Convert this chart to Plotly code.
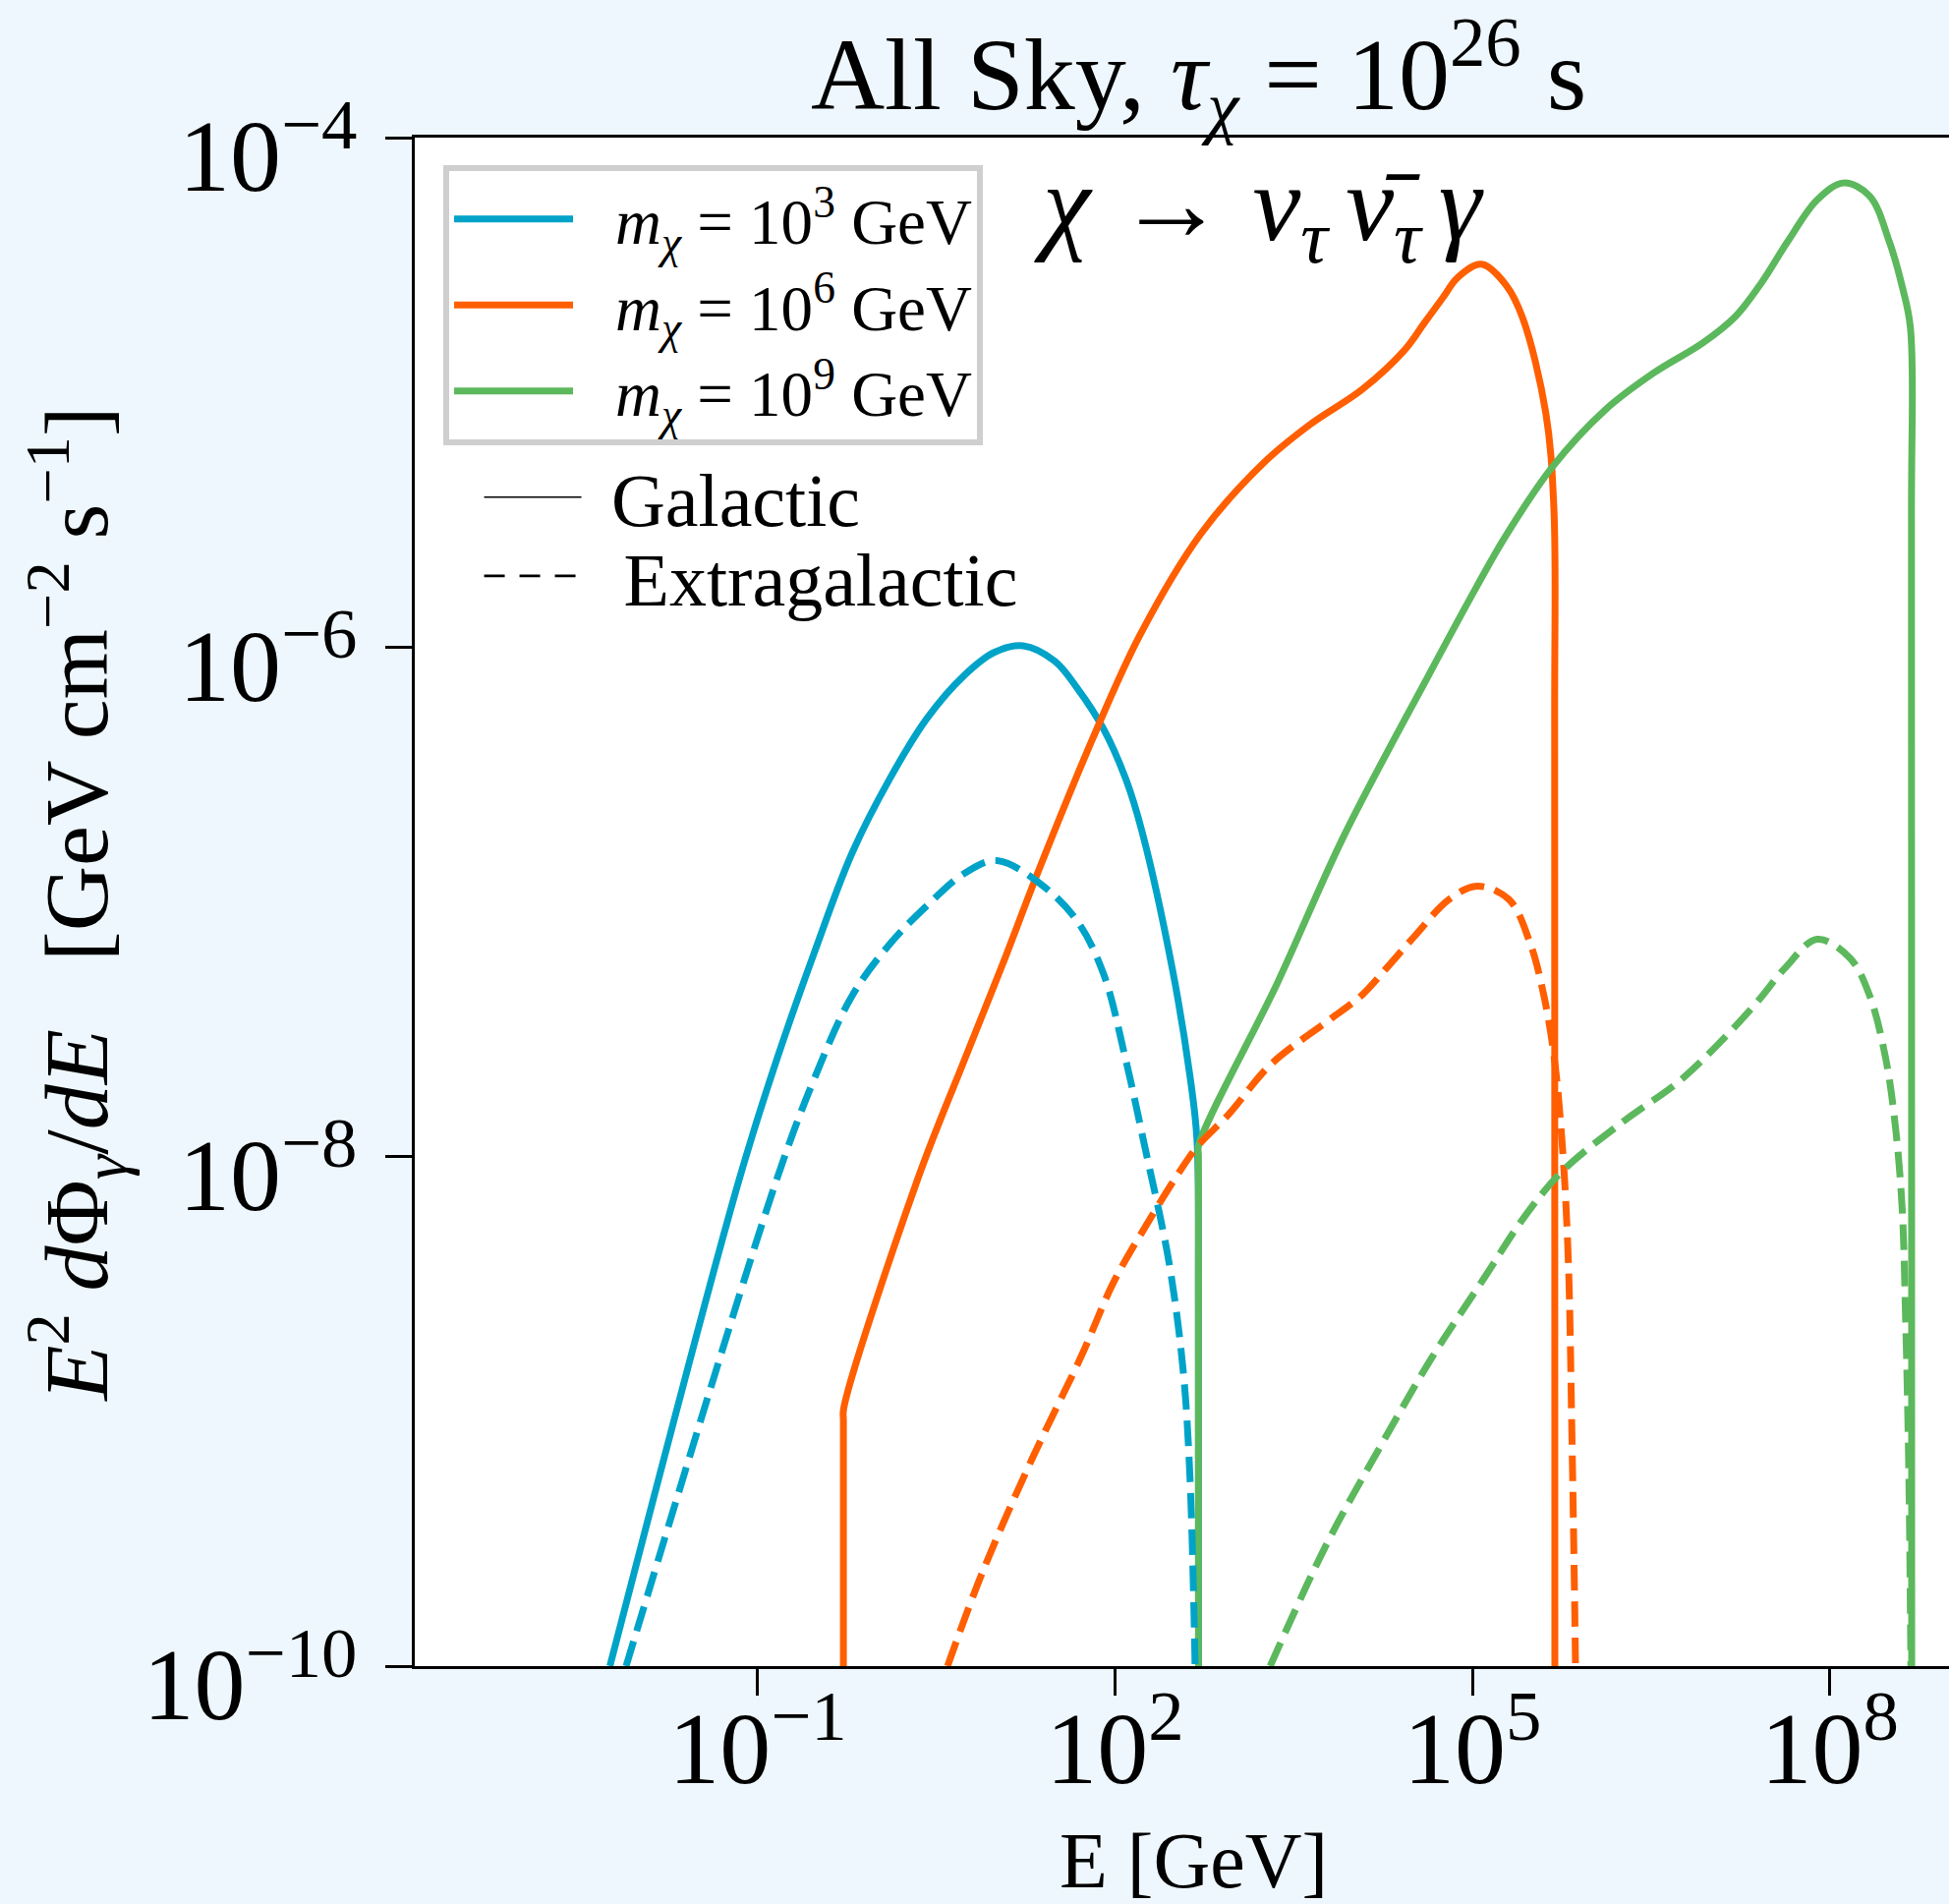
import plotly.graph_objects as go

# ---- data: log10(E / GeV) and log10(E^2 dPhi/dE / (GeV cm^-2 s^-1)) ----
gal_1e3_logE = [-2.24, -1.155, -0.84, -0.525, -0.209, 0.105, 0.421, 0.736, 0.989, 1.229, 1.493, 1.681,
                1.902, 2.092, 2.23, 2.481, 2.628, 2.6875, 2.70, 2.702]
gal_1e3_logF = [-10.0, -8.09, -7.62, -7.20, -6.81, -6.52, -6.28, -6.11, -6.02, -5.995, -6.055, -6.16,
                -6.32, -6.52, -6.73, -7.263, -7.681, -7.932, -8.6, -10.6]

exg_1e3_logE = [-2.104, -0.84, -0.525, -0.209, 0.105, 0.421, 0.736, 1.004, 1.367, 1.681, 1.902, 2.09,
                2.246, 2.452, 2.57, 2.628, 2.672]
exg_1e3_logF = [-10.0, -8.09, -7.695, -7.37, -7.168, -7.015, -6.888, -6.838, -6.927, -7.074, -7.281, -7.62,
                -7.953, -8.413, -8.831, -9.25, -10.0]

gal_1e6_logE = [-0.28, -0.28, -0.278, 0.342, 0.736, 1.051, 1.367, 1.807, 2.21, 2.719, 3.238, 3.638, 4.076,
                4.434, 4.6, 4.755, 4.874, 5.075, 5.285, 5.423, 5.615, 5.683, 5.69, 5.692]
gal_1e6_logF = [-10.6, -9.04, -8.99, -8.09, -7.62, -7.251, -6.867, -6.365, -5.952, -5.556, -5.281, -5.126,
                -4.988, -4.832, -4.725, -4.626, -4.55, -4.497, -4.581, -4.71, -5.079, -5.449, -6.3, -10.6]

exg_1e6_logE = [0.594, 0.885, 1.3, 1.717, 1.99, 2.266, 2.54, 2.70, 2.952, 3.305, 3.775, 4.07, 4.275, 4.51,
                4.805, 5.04, 5.305, 5.481, 5.599, 5.688, 5.76, 5.805, 5.833, 5.865, 5.87]
exg_1e6_logF = [-10.0, -9.634, -9.19, -8.783, -8.491, -8.266, -8.06, -7.955, -7.835, -7.639, -7.471, -7.367,
                -7.262, -7.137, -6.99, -6.938, -6.99, -7.158, -7.367, -7.618, -7.995, -8.413, -9.041, -10.0,
                -10.3]

gal_1e9_logE = [2.70, 2.70, 2.702, 3.363, 3.923, 4.635, 5.035, 5.285, 5.67, 6.109, 6.521, 6.933, 7.207, 7.427,
                7.647, 7.894, 8.114, 8.333, 8.498, 8.607, 8.676, 8.685, 8.687]
gal_1e9_logF = [-10.6, -8.0, -7.955, -7.318, -6.739, -6.108, -5.763, -5.559, -5.293, -5.071, -4.924, -4.806,
                -4.702, -4.569, -4.407, -4.244, -4.178, -4.229, -4.407, -4.584, -4.746, -5.5, -10.6]

exg_1e9_logE = [3.302, 3.775, 4.217, 4.658, 5.099, 5.423, 5.752, 6.247, 6.741, 7.07, 7.399, 7.619, 7.894,
                8.169, 8.333, 8.47, 8.552, 8.607, 8.635, 8.663, 8.68, 8.685]
exg_1e9_logF = [-10.0, -9.522, -9.146, -8.79, -8.476, -8.245, -8.058, -7.869, -7.702, -7.555, -7.388, -7.262,
                -7.147, -7.221, -7.367, -7.618, -7.89, -8.204, -8.622, -9.25, -10.0, -10.3]

mass_labels = ["<i>m</i><sub><i>χ</i></sub> = 10<sup>3</sup> GeV",
               "<i>m</i><sub><i>χ</i></sub> = 10<sup>6</sup> GeV",
               "<i>m</i><sub><i>χ</i></sub> = 10<sup>9</sup> GeV"]
colors = ["#00a3c8", "#ff5f00", "#5cb85c"]
component_labels = ["Galactic", "Extragalactic"]

x_tickvals = [1e-1, 1e2, 1e5, 1e8]
x_ticktext = ["10<sup>−1</sup>", "10<sup>2</sup>", "10<sup>5</sup>", "10<sup>8</sup>"]
y_tickvals = [1e-10, 1e-8, 1e-6, 1e-4]
y_ticktext = ["10<sup>−10</sup>", "10<sup>−8</sup>", "10<sup>−6</sup>", "10<sup>−4</sup>"]

FONT = "Liberation Serif"
DASH = "26px,11px"
LW = 7
SMOOTH = 1.0

fig = go.Figure()

solid = [(gal_1e3_logE, gal_1e3_logF), (gal_1e6_logE, gal_1e6_logF), (gal_1e9_logE, gal_1e9_logF)]
dashed = [(exg_1e3_logE, exg_1e3_logF), (exg_1e6_logE, exg_1e6_logF), (exg_1e9_logE, exg_1e9_logF)]

for (lx, ly), c, lab in zip(solid, colors, mass_labels):
    fig.add_trace(go.Scatter(x=[10 ** v for v in lx], y=[10 ** v for v in ly], mode="lines",
                             line=dict(color=c, width=LW, shape="spline", smoothing=SMOOTH),
                             name="\u2002\u200a" + lab, legend="legend", showlegend=True))
for (lx, ly), c, lab in zip(dashed, colors, mass_labels):
    fig.add_trace(go.Scatter(x=[10 ** v for v in lx], y=[10 ** v for v in ly], mode="lines",
                             line=dict(color=c, width=LW, dash=DASH, shape="spline", smoothing=SMOOTH),
                             name=lab, showlegend=False))

# style legend (Galactic / Extragalactic)
fig.add_trace(go.Scatter(x=[None], y=[None], mode="lines", line=dict(color="black", width=1.6),
                         name="\u2004" + component_labels[0], legend="legend2"))
fig.add_trace(go.Scatter(x=[None], y=[None], mode="lines", line=dict(color="black", width=2.6, dash="21px,15px"),
                         name="\u2002" + component_labels[1], legend="legend3"))

axis_common = dict(type="log", showgrid=False, zeroline=False, showline=True, linecolor="black",
                   linewidth=2.5, ticks="outside", ticklen=27, tickwidth=2.5, tickcolor="black",
                   tickfont=dict(family=FONT, size=104, color="black"))

fig.update_layout(
    width=1983, height=1937,
    paper_bgcolor="#eef7fd", plot_bgcolor="white",
    margin=dict(l=422, r=0, t=140, b=242, autoexpand=False),
    font=dict(family=FONT, color="black"),
    xaxis=dict(range=[-3.878, 9.0], tickvals=x_tickvals, ticktext=x_ticktext, mirror=True,
               ticklabelstandoff=-36, **axis_common),
    yaxis=dict(range=[-10, -4], tickvals=y_tickvals, ticktext=y_ticktext, mirror=False,
               ticklabelstandoff=8, ticklabelshift=18, **axis_common),
    legend=dict(x=0.0186, y=0.982, xanchor="left", yanchor="top", bgcolor="white",
                bordercolor="#cfcfcf", borderwidth=6, font=dict(family=FONT, size=65),
                itemwidth=121, traceorder="normal"),
    legend2=dict(x=0.042, y=0.7647, xanchor="left", yanchor="middle", bgcolor="rgba(0,0,0,0)",
                 borderwidth=0, font=dict(family=FONT, size=76), itemwidth=99),
    legend3=dict(x=0.042, y=0.7132, xanchor="left", yanchor="middle", bgcolor="rgba(0,0,0,0)",
                 borderwidth=0, font=dict(family=FONT, size=76), itemwidth=99),
    showlegend=True,
)

fig.add_annotation(text="All Sky, <i>τ</i><sub><i>χ</i></sub> = 10<sup>26</sup> s",
                   xref="paper", yref="paper", x=0.511, y=1.0412, xanchor="center", yanchor="middle",
                   showarrow=False, font=dict(family=FONT, size=104))
fig.add_annotation(text="E [GeV]", xref="paper", yref="paper", x=0.5074, y=-0.1273,
                   xanchor="center", yanchor="middle", showarrow=False, font=dict(family=FONT, size=80))
fig.add_annotation(text="<i>E</i><sup>2</sup> <i>d</i>Φ<sub><i>γ</i></sub>/<i>dE</i>   [GeV cm<sup>−2</sup> s<sup>−1</sup>]",
                   xref="paper", yref="paper", x=-0.2204, y=0.4985, textangle=-90,
                   xanchor="center", yanchor="middle", showarrow=False, font=dict(family=FONT, size=92))
fig.add_annotation(text="<i>χ</i> → <i>ν</i><sub><i>τ</i></sub>\u2006<i>ν̄</i><sub><i>τ</i></sub>\u2006<i>γ</i>",
                   xref="paper", yref="paper", x=0.4023, y=0.952, xanchor="left", yanchor="middle",
                   showarrow=False, font=dict(family=FONT, size=110))

fig.write_html("out.html")
